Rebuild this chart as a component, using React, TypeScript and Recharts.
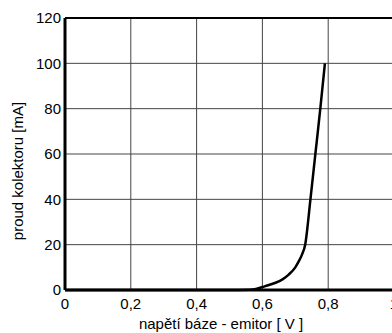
import { CartesianGrid, Label, Line, LineChart, ReferenceLine, XAxis, YAxis } from 'recharts';

// napětí báze - emitor [V]
const voltage = [0, 0.5, 0.56, 0.58, 0.6, 0.62, 0.64, 0.66, 0.68, 0.7, 0.71, 0.72, 0.73, 0.746, 0.761, 0.776, 0.79];
// proud kolektoru [mA]
const current = [0, 0, 0.1, 0.4, 1.3, 2.2, 3.2, 4.6, 6.8, 10, 12.5, 15.5, 20, 40, 60, 80, 100];

const xTicks = [0, 0.2, 0.4, 0.6, 0.8, 1];
const yTicks = [0, 20, 40, 60, 80, 100, 120];

const font = '"Liberation Sans", Arial, sans-serif';

export default function App() {
    const data = voltage.map((v, i) => ({ v, i: current[i] }));

    return (
        <div style={{ position: 'absolute', left: 0, top: 0, width: 392, height: 333, overflow: 'hidden', background: '#fff' }}>
            <LineChart width={400} height={333} data={data} margin={{ top: 18, right: 6, left: 0, bottom: 0 }}>
                <CartesianGrid stroke="#444" strokeWidth={1} />
                <XAxis
                    dataKey="v"
                    type="number"
                    domain={[0, 1]}
                    ticks={xTicks}
                    height={43}
                    tickLine={false}
                    axisLine={{ stroke: '#000', strokeWidth: 3 }}
                    tick={{ fontSize: 15, fill: '#000', fontFamily: font }}
                    tickFormatter={(v: number) => String(v).replace('.', ',')}
                >
                    <Label
                        content={() => (
                            <text x={221} y={329} textAnchor="middle" fontSize={15} fontFamily={font} fill="#000">
                                napětí báze - emitor [ V ]
                            </text>
                        )}
                    />
                </XAxis>
                <YAxis
                    type="number"
                    domain={[0, 120]}
                    ticks={yTicks}
                    width={65}
                    tickLine={false}
                    tickSize={2}
                    tickMargin={2}
                    axisLine={{ stroke: '#000', strokeWidth: 3 }}
                    tick={{ fontSize: 15, fill: '#000', fontFamily: font }}
                >
                    <Label
                        content={() => (
                            <text
                                x={17}
                                y={171}
                                transform="rotate(-90, 17, 171)"
                                textAnchor="middle"
                                dominantBaseline="central"
                                fontSize={15}
                                fontFamily={font}
                                fill="#000"
                            >
                                proud kolektoru [mA]
                            </text>
                        )}
                    />
                </YAxis>
                <ReferenceLine y={120} stroke="#000" strokeWidth={2} />
                <Line
                    type="monotone"
                    dataKey="i"
                    stroke="#000"
                    strokeWidth={2.5}
                    dot={false}
                    isAnimationActive={false}
                />
            </LineChart>
        </div>
    );
}
